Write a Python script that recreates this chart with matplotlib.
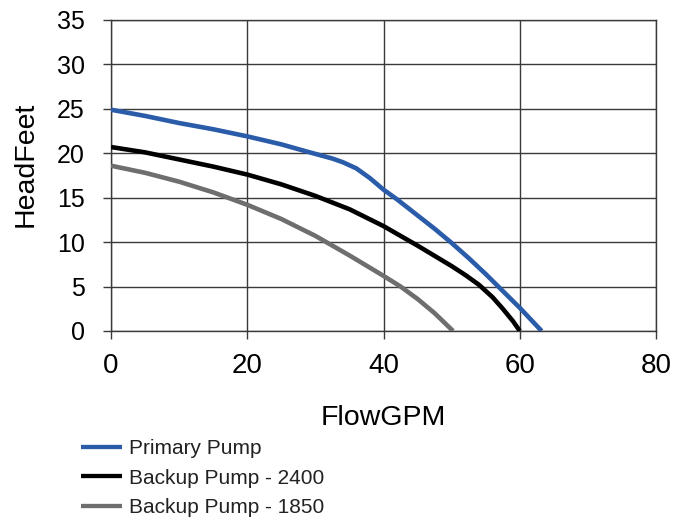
import matplotlib
matplotlib.use("Agg")
import matplotlib.pyplot as plt

flow_primary = [0, 5, 10, 15, 20, 25, 28.7, 32.5, 34, 36, 38, 40, 42, 45, 47.5, 50, 52.5, 55, 60, 63.2]
head_primary = [24.9, 24.2, 23.4, 22.7, 21.9, 21.0, 20.2, 19.4, 19.0, 18.3, 17.2, 15.9, 14.8, 13.0, 11.5, 9.9, 8.2, 6.4, 2.6, 0.0]

flow_2400 = [0, 5, 10, 15, 20, 25, 30, 35, 40, 45, 50, 52, 54, 56, 57.5, 59, 60]
head_2400 = [20.7, 20.1, 19.3, 18.5, 17.6, 16.5, 15.2, 13.7, 11.8, 9.6, 7.3, 6.3, 5.2, 3.8, 2.5, 1.1, 0.0]

flow_1850 = [0, 5, 10, 15, 20, 25, 30, 35, 40, 42.5, 45, 47.5, 50.2]
head_1850 = [18.6, 17.8, 16.8, 15.6, 14.2, 12.6, 10.7, 8.5, 6.2, 5.0, 3.6, 2.0, 0.0]

series_names = ["Primary Pump", "Backup Pump - 2400", "Backup Pump - 1850"]
series_colors = ["#2a5caa", "#000000", "#6e6e6e"]

x_ticks = [0, 20, 40, 60, 80]
y_ticks = [0, 5, 10, 15, 20, 25, 30, 35]

main_font = ["Liberation Sans", "DejaVu Sans"]

fig = plt.figure(figsize=(6.87, 5.21), dpi=100)
ax = fig.add_axes([0.1616, 0.3647, 0.7934, 0.597])

for fx, hy, nm, col in zip([flow_primary, flow_2400, flow_1850],
                           [head_primary, head_2400, head_1850],
                           series_names, series_colors):
    ax.plot(fx, hy, color=col, lw=3.3, label=nm, solid_capstyle="butt",
            solid_joinstyle="round", zorder=3)

ax.set_xlim(0, 80)
ax.set_ylim(0, 35)
ax.set_xticks(x_ticks)
ax.set_yticks(y_ticks)
ax.grid(True, color="#3a3a3a", lw=1.0, zorder=1)
for s in ax.spines.values():
    s.set_color("#3a3a3a")
    s.set_linewidth(1.0)
ax.tick_params(axis="both", direction="out", length=5.8, width=1.0, color="#3a3a3a")
ax.tick_params(axis="x", labelsize=20, pad=10)
ax.tick_params(axis="y", labelsize=18, pad=13)
for lab in ax.get_xticklabels() + ax.get_yticklabels():
    lab.set_fontfamily(main_font)

ax.set_xlabel("FlowGPM", fontsize=20.5, family=main_font)
ax.set_ylabel("HeadFeet", fontsize=20.5, family=main_font)
ax.xaxis.set_label_coords(0.5, -0.238)
ax.yaxis.set_label_coords(-0.132, 0.537)

leg = fig.legend(loc="upper left", bbox_to_anchor=(0.118, 0.157), frameon=False,
                 prop={"family": main_font, "size": 15}, handlelength=1.95,
                 handletextpad=0.37, labelspacing=0.5, borderaxespad=0, borderpad=0)
for t in leg.get_texts():
    t.set_color("#222222")
for h in leg.get_lines():
    h.set_linewidth(3.1)

fig.savefig("out.png", dpi=100)
